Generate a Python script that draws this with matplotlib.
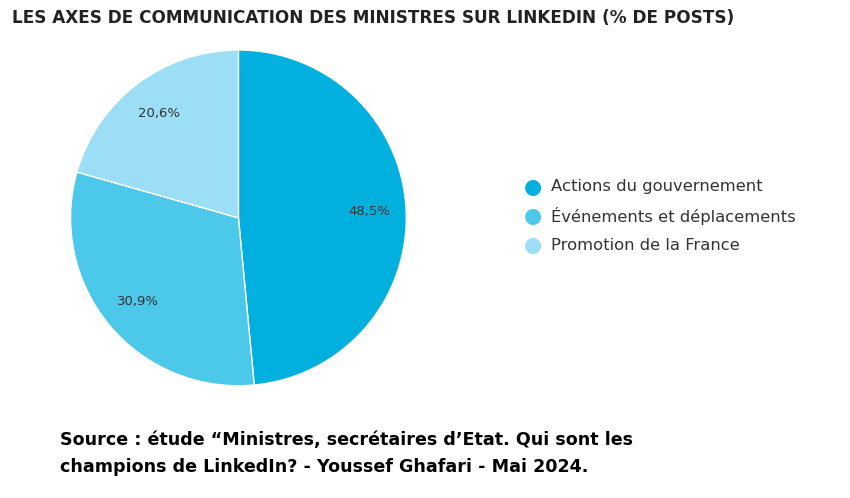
import matplotlib
matplotlib.use("Agg")
import matplotlib.pyplot as plt
import numpy as np

categories = ["Actions du gouvernement", "Événements et déplacements", "Promotion de la France"]
values = [48.5, 30.9, 20.6]
labels = ["48,5%", "30,9%", "20,6%"]
colors = ["#02B0E0", "#4CC8EA", "#9CDEF5"]

fig = plt.figure(figsize=(8.5, 4.98), dpi=100)
ax = fig.add_axes([0.083, 0.225, 0.395, 0.675])
wedges, _ = ax.pie(values, colors=colors, startangle=90, counterclock=False,
                   wedgeprops=dict(linewidth=1, edgecolor="white"))
for w, lab in zip(wedges, labels):
    ang = np.deg2rad((w.theta1 + w.theta2) / 2)
    ax.text(0.78 * np.cos(ang), 0.78 * np.sin(ang), lab, ha="center", va="center",
            fontsize=9.5, color="#333333", family="DejaVu Sans")
ax.set_xlim(-1, 1)
ax.set_ylim(-1, 1)
ax.set_aspect("equal")
ax.axis("off")

fig.text(12/850, 1 - 18/498, "LES AXES DE COMMUNICATION DES MINISTRES SUR LINKEDIN (% DE POSTS)",
         fontsize=12.2, fontweight="bold", family="DejaVu Sans", va="center", color="#222222")

for i, (c, col) in enumerate(zip(categories, colors)):
    y = 1 - (187 + 29 * i) / 498
    fig.text(533/850, y, "●", color=col, fontsize=15, ha="center", va="center")
    fig.text(551/850, y, c, fontsize=11.8, family="DejaVu Sans", va="center", color="#333333")

fig.text(60/850, 1 - 440/498, "Source : étude “Ministres, secrétaires d’Etat. Qui sont les",
         fontsize=12.6, fontweight="bold", family="DejaVu Sans", va="center", color="black")
fig.text(60/850, 1 - 467/498, "champions de LinkedIn? - Youssef Ghafari - Mai 2024.",
         fontsize=12.6, fontweight="bold", family="DejaVu Sans", va="center", color="black")

fig.savefig("out.png", dpi=100)
